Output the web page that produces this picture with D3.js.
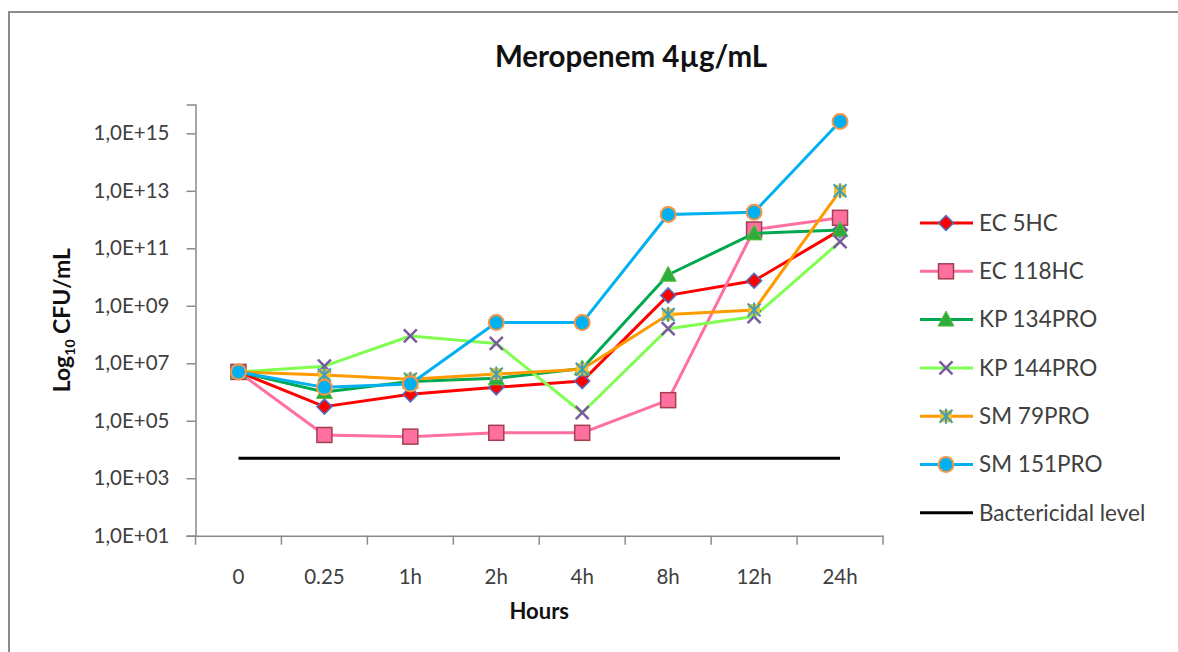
<!DOCTYPE html>
<html>
<head>
<meta charset="utf-8">
<script src="https://cdn.jsdelivr.net/npm/d3@7"></script>
<style>
  html, body { margin: 0; padding: 0; background: #fff; }
  svg { display: block; font-family: Lato, "Open Sans", sans-serif; }
</style>
</head>
<body>
<svg id="chart" width="1178" height="652"></svg>
<script>
// ---- data ----
const title = "Meropenem 4µg/mL";
const categories = ["0", "0.25", "1h", "2h", "4h", "8h", "12h", "24h"];
const yTickValues = [1e1, 1e3, 1e5, 1e7, 1e9, 1e11, 1e13, 1e15];
const seriesNames = ["EC 5HC", "EC 118HC", "KP 134PRO", "KP 144PRO", "SM 79PRO", "SM 151PRO"];
const ec5hc    = [5.0e6, 3.1e5, 8.3e5, 1.45e6, 2.4e6, 2.3e9, 7.4e9, 4.3e11];
const ec118hc  = [5.0e6, 3.2e4, 2.8e4, 3.8e4, 3.8e4, 5.2e5, 4.5e11, 1.15e12];
const kp134pro = [5.0e6, 1.0e6, 2.3e6, 3.0e6, 6.6e6, 1.2e10, 3.3e11, 4.3e11];
const kp144pro = [5.0e6, 7.9e6, 8.9e7, 4.9e7, 1.9e5, 1.6e8, 4.2e8, 1.7e11];
const sm79pro  = [5.0e6, 3.9e6, 2.8e6, 4.2e6, 6.2e6, 5.0e8, 7.1e8, 1.0e13];
const sm151pro = [5.0e6, 1.45e6, 1.9e6, 2.6e8, 2.6e8, 1.5e12, 1.8e12, 2.6e15];
const bactericidalLevel = 5e3;
const bactericidalName = "Bactericidal level";

// ---- styles ----
const styles = [
  { line: "#FF0000", marker: "diamond", fill: "#FF0000", stroke: "#4F6FBF" },
  { line: "#FF6F9F", marker: "square",  fill: "#FF6F9F", stroke: "#A3404F" },
  { line: "#00A84F", marker: "triangle",fill: "#2EAD3C", stroke: "#5FBF3F" },
  { line: "#80FF50", marker: "x",       fill: "none",    stroke: "#7A5A9E" },
  { line: "#FF9A00", marker: "star",    fill: "#F2C030", stroke: "#3F9FB8" },
  { line: "#00B0F0", marker: "circle",  fill: "#00B0F0", stroke: "#F79646" }
];
const seriesValues = [ec5hc, ec118hc, kp134pro, kp144pro, sm79pro, sm151pro];

const svg = d3.select("#chart");
const W = 1178, H = 652;
const plot = { left: 195.5, right: 883, top: 104.6, bottom: 535.7 };

// outer frame
svg.append("rect").attr("x", 9).attr("y", 12).attr("width", W + 20).attr("height", H + 20)
  .attr("fill", "none").attr("stroke", "#8c8c8c").attr("stroke-width", 2);

const x = d3.scaleBand().domain(categories).range([plot.left, plot.right]).padding(0);
const xc = c => x(c) + x.bandwidth() / 2;
const y = d3.scaleLog().domain([1e1, 1e16]).range([plot.bottom, plot.top]);

// title
svg.append("text").attr("x", 631).attr("y", 67).attr("text-anchor", "middle")
  .attr("font-size", 29.5).attr("font-weight", 700).attr("fill", "#111").text(title);

// y axis
const fmt = v => "1,0E+" + String(Math.round(Math.log10(v))).padStart(2, "0");
const yAxis = svg.append("g").attr("transform", `translate(${plot.left},0)`)
  .call(d3.axisLeft(y).tickValues(yTickValues).tickFormat(fmt).tickSize(9).tickPadding(17));
yAxis.select(".domain").attr("stroke", "#8a8a8a").attr("stroke-width", 1.5);
yAxis.selectAll(".tick line").attr("stroke", "#8a8a8a").attr("stroke-width", 1.5);
yAxis.selectAll(".tick text").attr("font-size", 20.5).attr("fill", "#404040")
  .attr("font-family", "Lato, sans-serif");

// x axis: labels at centres, ticks at band boundaries
const xAxis = svg.append("g").attr("transform", `translate(0,${plot.bottom})`)
  .call(d3.axisBottom(x).tickSize(0).tickPadding(34));
xAxis.select(".domain").attr("stroke", "#8a8a8a").attr("stroke-width", 1.5);
xAxis.selectAll(".tick text").attr("font-size", 20.5).attr("fill", "#404040")
  .attr("font-family", "Lato, sans-serif");
const bounds = categories.map(c => x(c)).concat([x(categories[categories.length - 1]) + x.bandwidth()]);
xAxis.selectAll(".bound").data(bounds).enter().append("line")
  .attr("x1", d => d).attr("x2", d => d).attr("y1", 0).attr("y2", 9)
  .attr("stroke", "#8a8a8a").attr("stroke-width", 1.5);

// axis titles
svg.append("text").attr("x", xc("4h") - 43).attr("y", 619).attr("text-anchor", "middle")
  .attr("font-size", 22).attr("font-weight", 700).attr("fill", "#111").text("Hours");
const yt = svg.append("text").attr("transform", `translate(70,${(plot.top + plot.bottom) / 2}) rotate(-90)`)
  .attr("text-anchor", "middle").attr("font-size", 23).attr("font-weight", 700).attr("fill", "#111");
yt.append("tspan").text("Log");
yt.append("tspan").attr("font-size", 14).attr("dy", 5).text("10");
yt.append("tspan").attr("dy", -5).text(" CFU/mL");

// marker drawing
function drawMarker(g, type, st) {
  if (type === "diamond") {
    g.append("path").attr("d", "M0,-7.5L7.5,0L0,7.5L-7.5,0Z").attr("fill", st.fill).attr("stroke", st.stroke).attr("stroke-width", 1.5);
  } else if (type === "square") {
    g.append("rect").attr("x", -7.5).attr("y", -7.5).attr("width", 15).attr("height", 15)
      .attr("fill", st.fill).attr("stroke", st.stroke).attr("stroke-width", 1.5);
  } else if (type === "triangle") {
    g.append("path").attr("d", "M0,-8.5L8,6.5L-8,6.5Z").attr("fill", st.fill).attr("stroke", st.stroke).attr("stroke-width", 1);
  } else if (type === "x") {
    g.append("path").attr("d", "M-6.5,-6.5L6.5,6.5M6.5,-6.5L-6.5,6.5").attr("stroke", st.stroke).attr("stroke-width", 2.5).attr("fill", "none");
  } else if (type === "star") {
    g.append("rect").attr("x", -6).attr("y", -6).attr("width", 12).attr("height", 12).attr("fill", st.fill);
    g.append("path").attr("d", "M-6.5,-6.5L6.5,6.5M6.5,-6.5L-6.5,6.5M0,-7.5L0,7.5").attr("stroke", st.stroke).attr("stroke-width", 2).attr("fill", "none");
  } else if (type === "circle") {
    g.append("circle").attr("r", 7.5).attr("fill", st.fill).attr("stroke", st.stroke).attr("stroke-width", 2);
  }
}

// bactericidal level
svg.append("line").attr("x1", xc(categories[0])).attr("x2", xc(categories[categories.length - 1]))
  .attr("y1", y(bactericidalLevel)).attr("y2", y(bactericidalLevel))
  .attr("stroke", "#000").attr("stroke-width", 3);

// series
const line = d3.line().x((d, i) => xc(categories[i])).y(d => y(d));
seriesValues.forEach((vals, si) => {
  const st = styles[si];
  const g = svg.append("g");
  g.append("path").datum(vals).attr("d", line).attr("fill", "none")
    .attr("stroke", st.line).attr("stroke-width", 3).attr("stroke-linejoin", "round");
  vals.forEach((v, i) => {
    const m = g.append("g").attr("transform", `translate(${xc(categories[i])},${y(v)})`);
    drawMarker(m, st.marker, st);
  });
});

// legend
const legendNames = seriesNames.concat([bactericidalName]);
const legend = svg.append("g");
legendNames.forEach((name, i) => {
  const ly = 223 + i * 48.3;
  const row = legend.append("g").attr("transform", `translate(0,${ly})`);
  const st = styles[i];
  row.append("line").attr("x1", 920).attr("x2", 973).attr("y1", 0).attr("y2", 0)
    .attr("stroke", st ? st.line : "#000").attr("stroke-width", 3);
  if (st) drawMarker(row.append("g").attr("transform", "translate(946,0)"), st.marker, st);
  row.append("text").attr("x", 979).attr("y", 0).attr("dy", "0.35em")
    .attr("font-size", 22.5).attr("fill", "#404040").text(name);
});
</script>
</body>
</html>
